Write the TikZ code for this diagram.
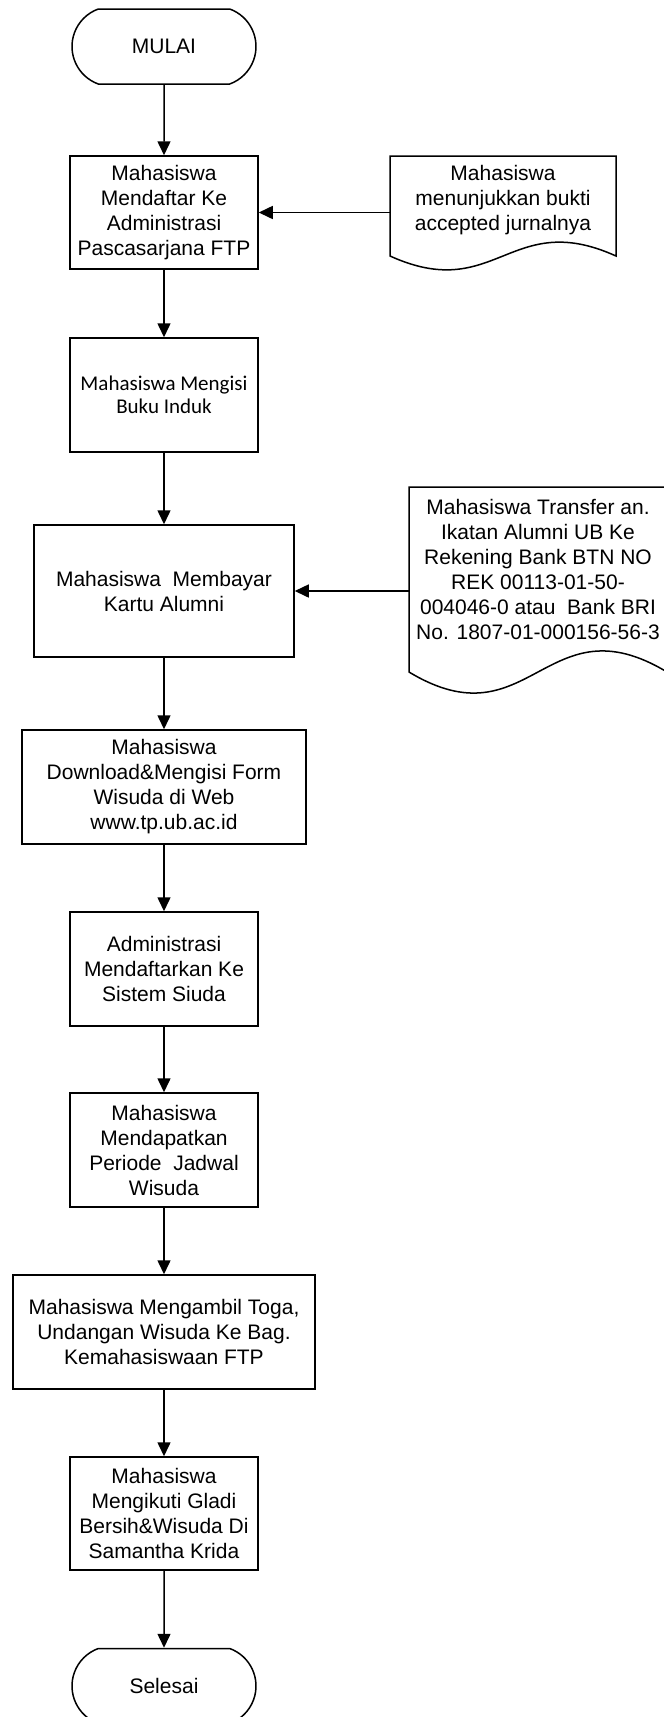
\documentclass[tikz,border=0pt]{standalone}
\usepackage{fontspec}
\setmainfont{Liberation Sans}
\newfontfamily\calibrifont{Carlito}
\usetikzlibrary{arrows.meta,shapes.misc}

\tikzset{
  proses/.style={draw, rectangle, line width=1.5pt, minimum width=188pt, minimum height=114pt,
    align=center, inner sep=2pt, font=\fontsize{21}{25}\selectfont},
  terminal/.style={draw, rounded rectangle, rounded rectangle arc length=140, line width=1.5pt,
    minimum width=188pt, minimum height=75pt, inner sep=2pt, font=\fontsize{21}{25}\selectfont},
  doktext/.style={align=center, inner sep=0pt, font=\fontsize{21}{25}\selectfont},
  garis/.style={line width=1.5pt},
  panah/.style={line width=1.5pt, -{Triangle[length=14pt,width=13pt]}},
}

\begin{document}
\begin{tikzpicture}[x=1pt, y=-1pt]
  \useasboundingbox (0,0) rectangle (664,1717);

  % Main flow
  \node[terminal] (mulai) at (164,46.5) {MULAI};
  \node[proses, minimum height=113pt] (daftar) at (164,212.5)
    {Mahasiswa\\Mendaftar Ke\\Administrasi\\Pascasarjana FTP};
  \node[proses, font=\calibrifont\fontsize{21}{23}\selectfont] (induk) at (164,395)
    {Mahasiswa Mengisi\\Buku Induk};
  \node[proses, minimum width=260pt, minimum height=132pt] (bayar) at (164,591)
    {Mahasiswa\ \ Membayar\\Kartu Alumni};
  \node[proses, minimum width=284pt] (unduh) at (164,787)
    {Mahasiswa\\Download\&Mengisi Form\\Wisuda di Web\\www.tp.ub.ac.id};
  \node[proses] (sistem) at (164,969)
    {Administrasi\\Mendaftarkan Ke\\Sistem Siuda};
  \node[proses] (jadwal) at (164,1150)
    {Mahasiswa\\Mendapatkan\\Periode\ \ Jadwal\\Wisuda};
  \node[proses, minimum width=302pt] (toga) at (164,1332)
    {Mahasiswa Mengambil Toga,\\Undangan Wisuda Ke Bag.\\Kemahasiswaan FTP};
  \node[proses, minimum height=113pt] (gladi) at (164,1513.5)
    {Mahasiswa\\Mengikuti Gladi\\Bersih\&Wisuda Di\\Samantha Krida};
  \node[terminal] (selesai) at (164,1686) {Selesai};

  % Documents
  \draw[garis] (390,156) -- (616,156) -- (616,256)
    .. controls (510,208) and (496,304) .. (390,256) -- cycle;
  \node[doktext, minimum width=226pt] (bukti) at (503,200)
    {Mahasiswa\\menunjukkan bukti\\accepted jurnalnya};

  \draw[garis] (409,487) -- (667,487) -- (667,672)
    .. controls (546,599) and (530,745) .. (409,672) -- cycle;
  \node[doktext, minimum width=258pt] (transfer) at (538,569.5)
    {Mahasiswa Transfer an.\\Ikatan Alumni UB Ke\\Rekening Bank BTN NO\\REK 00113-01-50-\\004046-0 atau\ \ Bank BRI\\No. 1807-01-000156-56-3};

  % Arrows
  \draw[panah] (mulai) -- (daftar);
  \draw[panah] (daftar) -- (induk);
  \draw[panah] (induk) -- (bayar);
  \draw[panah] (bayar) -- (unduh);
  \draw[panah] (unduh) -- (sistem);
  \draw[panah] (sistem) -- (jadwal);
  \draw[panah] (jadwal) -- (toga);
  \draw[panah] (toga) -- (gladi);
  \draw[panah] (gladi) -- (selesai);
  \draw[panah] (daftar.east -| bukti.west) -- (daftar.east);
  \draw[panah] (bayar.east -| transfer.west) -- (bayar.east);

\end{tikzpicture}
\end{document}
